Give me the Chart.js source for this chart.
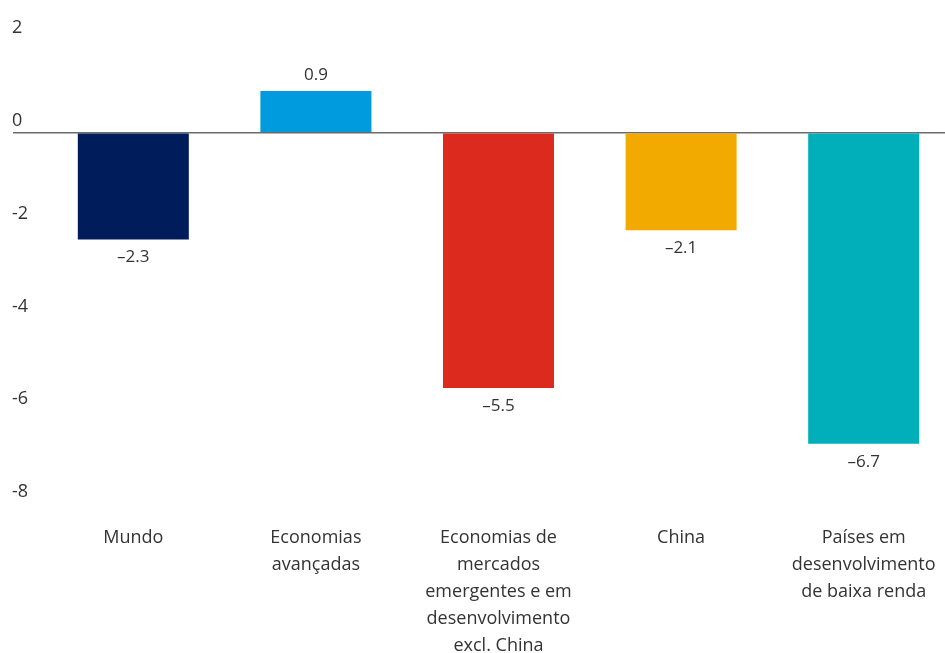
<!DOCTYPE html>
<html>
<head>
<meta charset="utf-8">
<script src="https://cdn.jsdelivr.net/npm/chart.js@4.4.0/dist/chart.umd.min.js"></script>
<style>
  html, body { margin: 0; padding: 0; background: #fff; overflow: hidden; }
  #wrap { width: 960px; height: 653px; }
</style>
</head>
<body>
<div id="wrap"><canvas id="chart"></canvas></div>
<script>
const categories = [
  ["Mundo"],
  ["Economias", "avançadas"],
  ["Economias de", "mercados", "emergentes e em", "desenvolvimento", "excl. China"],
  ["China"],
  ["Países em", "desenvolvimento", "de baixa renda"],
];
const values = [-2.3, 0.9, -5.5, -2.1, -6.7];
const barColors = ["#001c5a", "#009ade", "#dc2b1e", "#f2a900", "#00afb9"];
const yTicks = [2, 0, -2, -4, -6, -8];

const FONT = "'Open Sans', sans-serif";

// draws the value under (or over) each bar
const valueLabels = {
  id: "valueLabels",
  afterDatasetsDraw(chart) {
    const ctx = chart.ctx;
    const meta = chart.getDatasetMeta(0);
    ctx.save();
    ctx.font = "17px " + FONT;
    ctx.fillStyle = "#333";
    ctx.textAlign = "center";
    ctx.textBaseline = "middle";
    meta.data.forEach((bar, i) => {
      const v = values[i];
      const txt = v.toFixed(1).replace("-", "–");
      const y = v >= 0 ? bar.y - 16 : bar.y + 18;
      ctx.fillText(txt, bar.x, y);
    });
    ctx.restore();
  },
};

new Chart(document.getElementById("chart"), {
  type: "bar",
  data: {
    labels: categories,
    datasets: [
      {
        data: values,
        backgroundColor: barColors,
        borderWidth: 0,
        categoryPercentage: 1,
        barPercentage: 0.608,
      },
    ],
  },
  options: {
    responsive: true,
    maintainAspectRatio: false,
    animation: false,
    layout: { padding: { left: 12, top: 40, right: 5, bottom: 0 } },
    plugins: {
      legend: { display: false },
      tooltip: { enabled: false },
    },
    scales: {
      x: {
        grid: { display: false, drawTicks: false },
        border: { display: false },
        ticks: {
          color: "#333",
          font: { family: FONT, size: 18, lineHeight: 1.5 },
          padding: 20,
          maxRotation: 0,
          autoSkip: false,
        },
        afterFit(scale) { scale.height = 149; },
      },
      y: {
        min: -8,
        max: 2,
        afterBuildTicks(scale) { scale.ticks = yTicks.map(v => ({ value: v })); },
        grid: {
          color: c => (c.tick && c.tick.value === 0 ? "#6b6b6b" : "rgba(0,0,0,0)"),
          lineWidth: 1.5,
          tickLength: 29,
        },
        border: { display: false },
        ticks: {
          color: "#333",
          font: { family: FONT, size: 18 },
          crossAlign: "far",
          labelOffset: -12,
          callback: v => String(v),
        },
        afterFit(scale) { scale.width = 30; },
      },
    },
  },
  plugins: [valueLabels],
});
</script>
</body>
</html>
